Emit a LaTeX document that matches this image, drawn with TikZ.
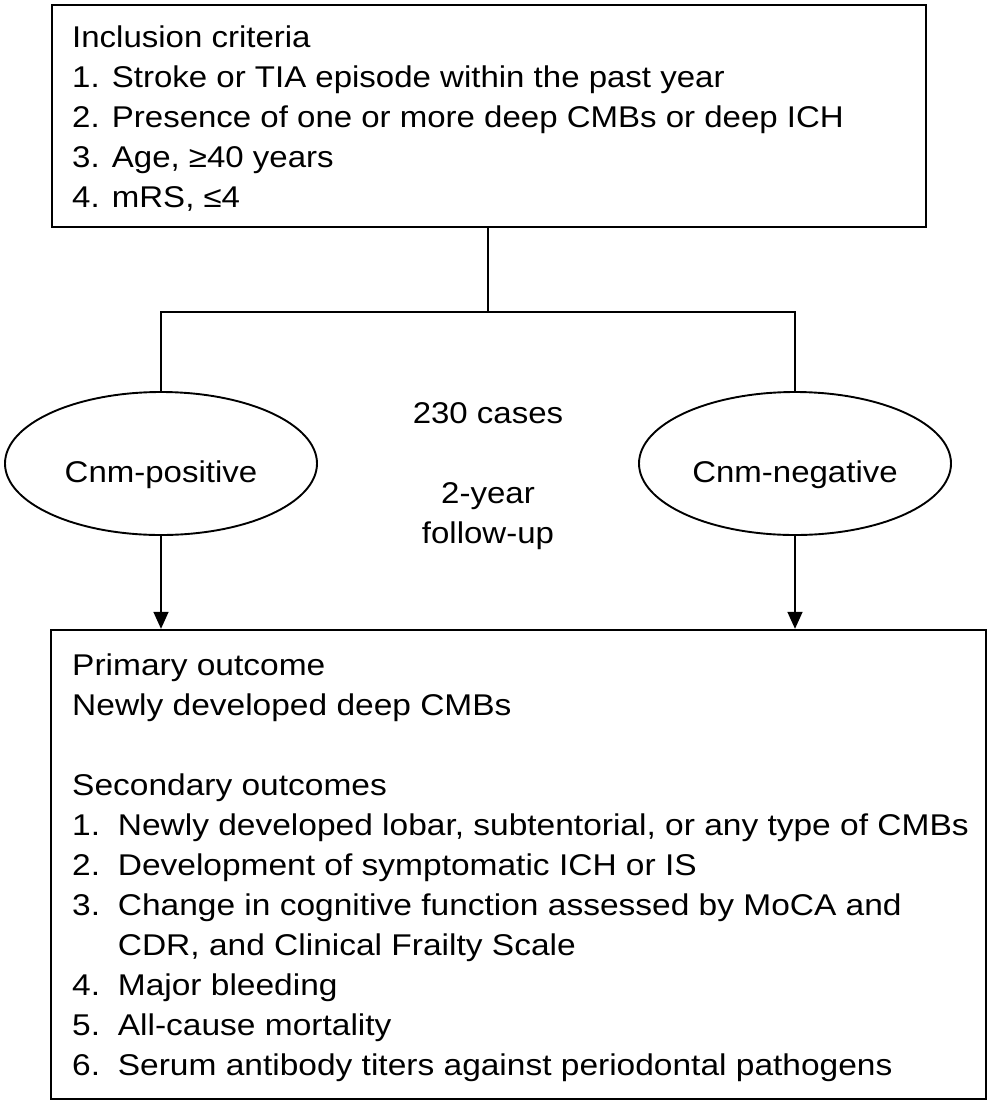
\documentclass[tikz,border=0pt]{standalone}
\usepackage{fontspec}
\setmainfont{Liberation Sans}[FakeStretch=1.1]
\usetikzlibrary{shapes.geometric,arrows.meta}
\newcommand\numlab[1]{\makebox[45pt][l]{#1}}
\begin{document}
\begin{tikzpicture}[x=1pt,y=-1pt,
  boxstyle/.style={draw, line width=2.4pt, rectangle, inner sep=0pt},
  txt/.style={inner sep=0pt, anchor=base west, font=\fontsize{30}{40}\selectfont},
  ell/.style={draw, ellipse, line width=1.9pt, minimum width=312pt, minimum height=143pt,
    inner sep=0pt, text height=37pt, text depth=0pt, font=\fontsize{30}{40}\selectfont},
  conn/.style={line width=1.6pt},
  arr/.style={conn, -{Triangle[width=15pt,length=17pt]}}]
\useasboundingbox (0,0) rectangle (989,1104);
% top box
\node[boxstyle, minimum width=874pt, minimum height=222pt] (top) at (489,116) {};
\node[txt] (toptext) at (72,47) {\begin{tabular}[t]{@{}l@{}}
Inclusion criteria\\
1. Stroke or TIA episode within the past year\\
2. Presence of one or more deep CMBs or deep ICH\\
3. Age, ≥40 years\\
4. mRS, ≤4
\end{tabular}};
% ellipses
\node[ell] (pos) at (161,463.5) {Cnm-positive};
\node[ell] (neg) at (795,463.5) {Cnm-negative};
% middle text
\node[inner sep=0pt, anchor=base, font=\fontsize{30}{40}\selectfont] (mid) at (488,423)
  {\begin{tabular}[t]{@{}c@{}}230 cases\\ \\ 2-year\\ follow-up\end{tabular}};
% bottom box
\node[boxstyle, minimum width=935pt, minimum height=469pt] (bot) at (518.5,864.5) {};
\node[txt] (bottext) at (72,675) {\scalebox{1.015}[1]{\begin{tabular}[t]{@{}l@{}}
Primary outcome\\
Newly developed deep CMBs\\
\\
Secondary outcomes\\
\numlab{1.}Newly developed lobar, subtentorial, or any type of CMBs\\
\numlab{2.}Development of symptomatic ICH or IS\\
\numlab{3.}Change in cognitive function assessed by MoCA and\\
\numlab{}CDR, and Clinical Frailty Scale\\
\numlab{4.}Major bleeding\\
\numlab{5.}All-cause mortality\\
\numlab{6.}Serum antibody titers against periodontal pathogens
\end{tabular}}};
% connectors
\coordinate (split) at (488,312);
\coordinate (lft) at (161,312);
\coordinate (rgt) at (795,312);
\draw[conn] (split |- top.south) -- (split);
\draw[conn] (pos.north) -- (lft) -- (rgt) -- (neg.north);
\draw[arr] (pos.south) -- (pos.south |- bot.north);
\draw[arr] (neg.south) -- (neg.south |- bot.north);
\end{tikzpicture}
\end{document}
